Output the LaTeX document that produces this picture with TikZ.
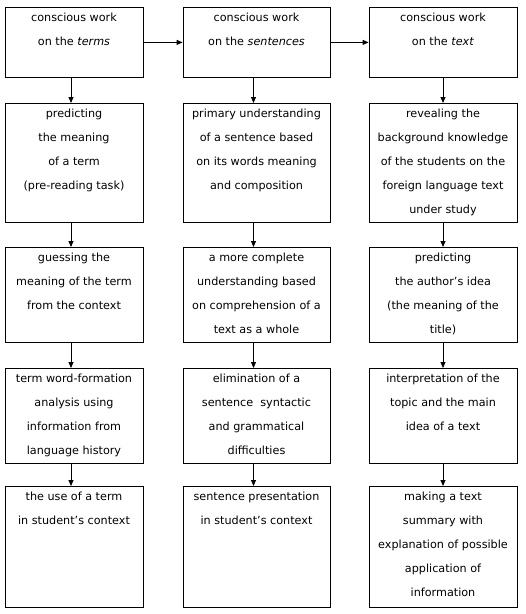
\documentclass[tikz,border=0pt]{standalone}
\usepackage{fontspec}
\setmainfont{DejaVu Sans}
\usetikzlibrary{arrows.meta}

\newcommand{\celltext}[3]{\parbox[c][#2][t]{#1}{\centering\fontsize{11.2}{24}\selectfont\rule{0pt}{14pt}#3}}

\tikzset{
  box/.style={draw, line width=0.8pt, inner sep=0pt, anchor=north},
  arr/.style={-{Triangle[length=6pt,width=5pt]}, line width=0.8pt}
}

\begin{document}
\begin{tikzpicture}[x=1pt,y=-1pt]
        \useasboundingbox (0,0) rectangle (526,614);

        % column of the terms
        \node[box] (term1) at (74,7) {\celltext{138pt}{70pt}{conscious work\\on the \textit{terms}}};
        \node[box] (term2) at (74,103) {\celltext{138pt}{119pt}{predicting\\the meaning\\of a term\\(pre-reading task)}};
        \node[box] (term3) at (74,247) {\celltext{138pt}{95pt}{guessing the\\meaning of the term\\from the context}};
        \node[box] (term4) at (74,368) {\celltext{138pt}{95pt}{term word-formation\\analysis using\\information from\\language history}};
        \node[box] (term5) at (74,486) {\celltext{138pt}{121pt}{the use of a term\\in student’s context}};

        % column of the sentences
        \node[box] (sent1) at (256.5,7) {\celltext{147pt}{70pt}{conscious work\\on the \textit{sentences}}};
        \node[box] (sent2) at (256.5,103) {\celltext{147pt}{119pt}{primary understanding\\of a sentence based\\on its words meaning\\and composition}};
        \node[box] (sent3) at (256.5,247) {\celltext{147pt}{95pt}{a more complete\\understanding based\\on comprehension of a\\text as a whole}};
        \node[box] (sent4) at (256.5,368) {\celltext{147pt}{95pt}{elimination of a\\sentence\ \ syntactic\\and grammatical\\difficulties}};
        \node[box] (sent5) at (256.5,486) {\celltext{147pt}{121pt}{sentence presentation\\in student’s context}};

        % column of the text
        \node[box] (text1) at (443,7) {\celltext{148pt}{70pt}{conscious work\\on the \textit{text}}};
        \node[box] (text2) at (443,103) {\celltext{148pt}{119pt}{revealing the\\background knowledge\\of the students on the\\foreign language text\\under study}};
        \node[box] (text3) at (443,247) {\celltext{148pt}{95pt}{predicting\\the author’s idea\\(the meaning of the\\title)}};
        \node[box] (text4) at (443,368) {\celltext{148pt}{95pt}{interpretation of the\\topic and the main\\idea of a text}};
        \node[box] (text5) at (443,486) {\celltext{148pt}{121pt}{making a text\\summary with\\explanation of possible\\application of\\information}};

        \draw[arr] (term1) -- (sent1);
        \draw[arr] (sent1) -- (text1);

        \draw[arr] ([xshift=-3pt]term1.south) -- ([xshift=-3pt]term2.north);
        \draw[arr] ([xshift=-3pt]term2.south) -- ([xshift=-3pt]term3.north);
        \draw[arr] ([xshift=-3pt]term3.south) -- ([xshift=-3pt]term4.north);
        \draw[arr] ([xshift=-3pt]term4.south) -- ([xshift=-3pt]term5.north);

        \draw[arr] ([xshift=-3pt]sent1.south) -- ([xshift=-3pt]sent2.north);
        \draw[arr] ([xshift=-3pt]sent2.south) -- ([xshift=-3pt]sent3.north);
        \draw[arr] ([xshift=-3pt]sent3.south) -- ([xshift=-3pt]sent4.north);
        \draw[arr] ([xshift=-3pt]sent4.south) -- ([xshift=-3pt]sent5.north);

        \draw[arr] (text1) -- (text2);
        \draw[arr] (text2) -- (text3);
        \draw[arr] (text3) -- (text4);
        \draw[arr] (text4) -- (text5);
\end{tikzpicture}
\end{document}
